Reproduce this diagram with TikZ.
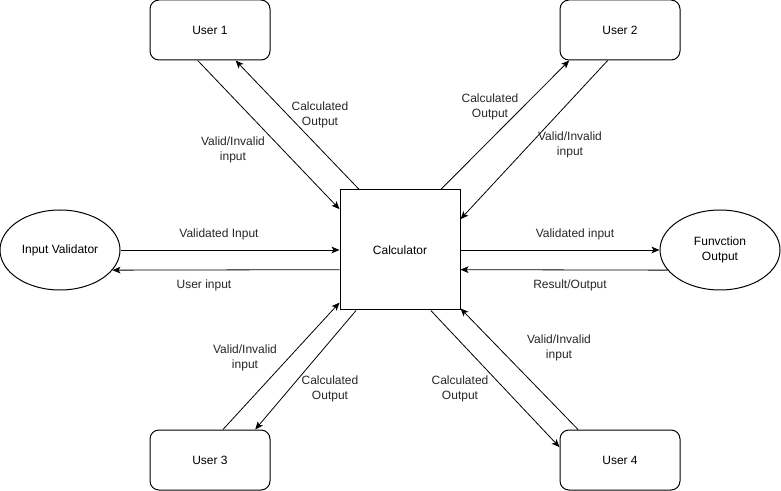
\documentclass[tikz,border=0pt]{standalone}
\usepackage{fontspec}
\setmainfont{Liberation Sans}
\usetikzlibrary{shapes.geometric, arrows.meta, positioning, calc}

\tikzset{
  userbox/.style={draw, rounded corners=6.75pt, minimum width=90pt, minimum height=45pt, inner sep=0pt, line width=0.75pt},
  procbox/.style={draw, minimum width=90pt, minimum height=90pt, inner sep=0pt, line width=0.75pt},
  extnode/.style={draw, ellipse, minimum width=90pt, minimum height=60pt, inner sep=0pt, align=center, line width=0.75pt},
  lbl/.style={align=center, inner sep=0pt, text=black!85},
  flow/.style={-{Stealth[length=6pt, width=5pt, inset=1.5pt]}, line width=0.6pt},
}

\begin{document}
\begin{tikzpicture}[x=0.75pt, y=-0.75pt, font=\fontsize{9}{11.25}\selectfont]
    \useasboundingbox (0,0) rectangle (781,491);
    % Process and users
    \node[procbox] (calc) at (400,250) {\raisebox{-2.5pt}{Calculator}};
    \node[userbox] (u1) at (210,30) {User 1};
    \node[userbox] (u2) at (620,30) {User 2};
    \node[userbox] (u3) at (210,460) {User 3};
    \node[userbox] (u4) at (620,460) {User 4};
    \node[extnode] (val) at (60,250) {Input Validator};
    \node[extnode] (fout) at (720,250) {Funvction\\Output};

    % Flows
    \draw[flow] (u1.248) -- (calc.146);
    \draw[flow] (calc.124) -- (u1.-50);
    \draw[flow] (calc.56) -- (u2.-149);
    \draw[flow] (u2.-112) -- (calc.27);
    \draw[flow] (val.east) -- (calc.west);
    \draw[flow] (calc.-162) -- (val.-21);
    \draw[flow] (calc.east) -- (fout.west);
    \draw[flow] (fout.-159) -- (calc.-18);
    \draw[flow] (u3.67) -- (calc.-139);
    \draw[flow] (calc.-126) -- (u3.34);
    \draw[flow] (calc.-63) -- (u4.168);
    \draw[flow] (u4.144) -- (calc.-44);

    % Flow labels
    \node[lbl] (lvalin) at (219,234) {Validated Input};
    \node[lbl] (luserin) at (204,285) {User input};
    \node[lbl] (lvalout) at (575,234) {Validated input};
    \node[lbl] (lres) at (570,285) {Result/Output};
    \node[lbl] (lu1out) at (320,115) {Calculated\\Output};
    \node[lbl] (lu1in) at (233,150) {Valid/Invalid\\input};
    \node[lbl] (lu2out) at (490,107) {Calculated\\Output};
    \node[lbl] (lu2in) at (570,145) {Valid/Invalid\\input};
    \node[lbl] (lu3in) at (245,358) {Valid/Invalid\\input};
    \node[lbl] (lu3out) at (330,389) {Calculated\\Output};
    \node[lbl] (lu4out) at (460,389) {Calculated\\Output};
    \node[lbl] (lu4in) at (559,348) {Valid/Invalid\\input};
\end{tikzpicture}
\end{document}
